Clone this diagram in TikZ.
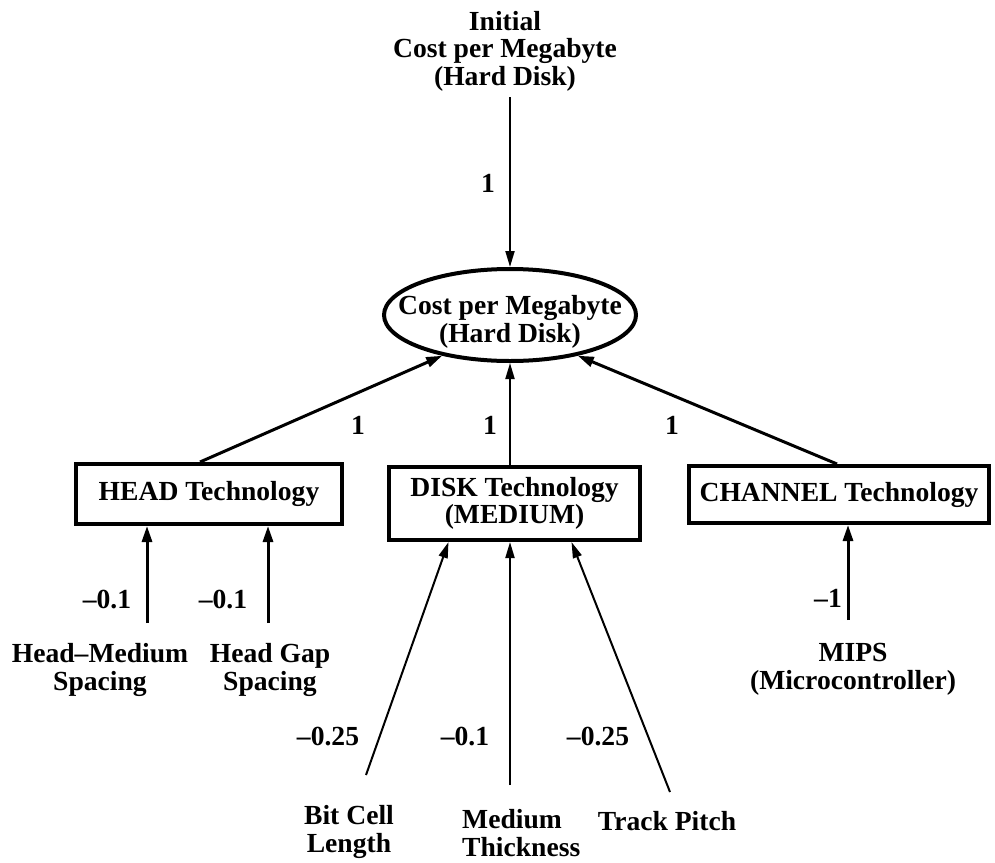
\documentclass[tikz,border=0pt]{standalone}
\usepackage{fontspec}
\setmainfont{Liberation Serif}
\usetikzlibrary{arrows.meta,shapes.geometric}
\begin{document}
\begin{tikzpicture}[x=1pt,y=-1pt,
  every node/.style={font=\fontsize{27.6}{27.6}\selectfont\bfseries, inner sep=0pt},
  txt/.style={align=center},
  techbox/.style={draw, line width=4pt},
  thinarrow/.style={line width=2pt, -{Triangle[length=16pt,width=9pt]}},
  thickarrow/.style={line width=3pt, -{Triangle[length=16pt,width=10pt]}},
]
\useasboundingbox (0,0) rectangle (995,862);

% top input and the central quantity
\node[txt] (init) at (505,51) {Initial\\Cost per Megabyte\\(Hard Disk)};
\node[draw, ellipse, line width=4pt, minimum width=252pt, minimum height=92pt] (cpm) at (510,315) {};
\node[txt] (cpmtext) at (510,322) {Cost per Megabyte\\(Hard Disk)};

% technology boxes
\node[techbox, minimum width=266pt, minimum height=60pt] (head) at (209,494) {HEAD Technology};
\node[techbox, minimum width=251pt, minimum height=73pt, txt] (disk) at (514.5,503.5) {DISK Technology\\(MEDIUM)};
\node[techbox, minimum width=300pt, minimum height=57pt] (chan) at (839,494.5) {CHANNEL Technology};

% leaf factors
\node[txt] (hms) at (100,670) {Head\textendash Medium\\Spacing};
\node[txt] (hgs) at (270,670) {Head Gap\\Spacing};
\node[txt] (bcl) at (349,832) {Bit Cell\\Length};
\node[align=left, anchor=west] (mth) at (462,833) {Medium\\Thickness};
\node (tpi) at (667,821) {Track Pitch};
\node[txt] (mips) at (853,669) {MIPS\\(Microcontroller)};

% free ends of the leaf arrows
\coordinate (hmsA) at (147,623);
\coordinate (hgsA) at (268,623);
\coordinate (bclA) at (366,775);
\coordinate (mthA) at (510,785);
\coordinate (tpiA) at (670,792);
\coordinate (mipsA) at (848,620);

% connectors into the central quantity
\draw[thinarrow, shorten <=6pt] (init.south -| cpm.north) -- (cpm.north);
\draw[thickarrow] ([xshift=-9pt]head.north) -- (cpm.211);
\draw[thinarrow] (disk.north -| cpm.south) -- (cpm.south);
\draw[thickarrow] ([xshift=-2pt]chan.north) -- (cpm.329);

% connectors into the technology boxes
\draw[thickarrow] (hmsA) -- (head.south -| hmsA);
\draw[thickarrow] (hgsA) -- (head.south -| hgsA);
\draw[thinarrow] (bclA) -- ([xshift=-66pt]disk.south);
\draw[thinarrow] (mthA) -- (disk.south -| mthA);
\draw[thinarrow] (tpiA) -- ([xshift=57pt]disk.south);
\draw[thickarrow] (mipsA) -- (chan.south -| mipsA);

% weights
\node (w0) at (488,183) {1};
\node (w1) at (358,425) {1};
\node (w2) at (490,425) {1};
\node (w3) at (672,425) {1};
\node (w4) at (107,600) {\textendash0.1};
\node (w5) at (223,600) {\textendash0.1};
\node (w6) at (328,737) {\textendash0.25};
\node (w7) at (465,737) {\textendash0.1};
\node (w8) at (598,737) {\textendash0.25};
\node (w9) at (828,598) {\textendash1};
\end{tikzpicture}
\end{document}
